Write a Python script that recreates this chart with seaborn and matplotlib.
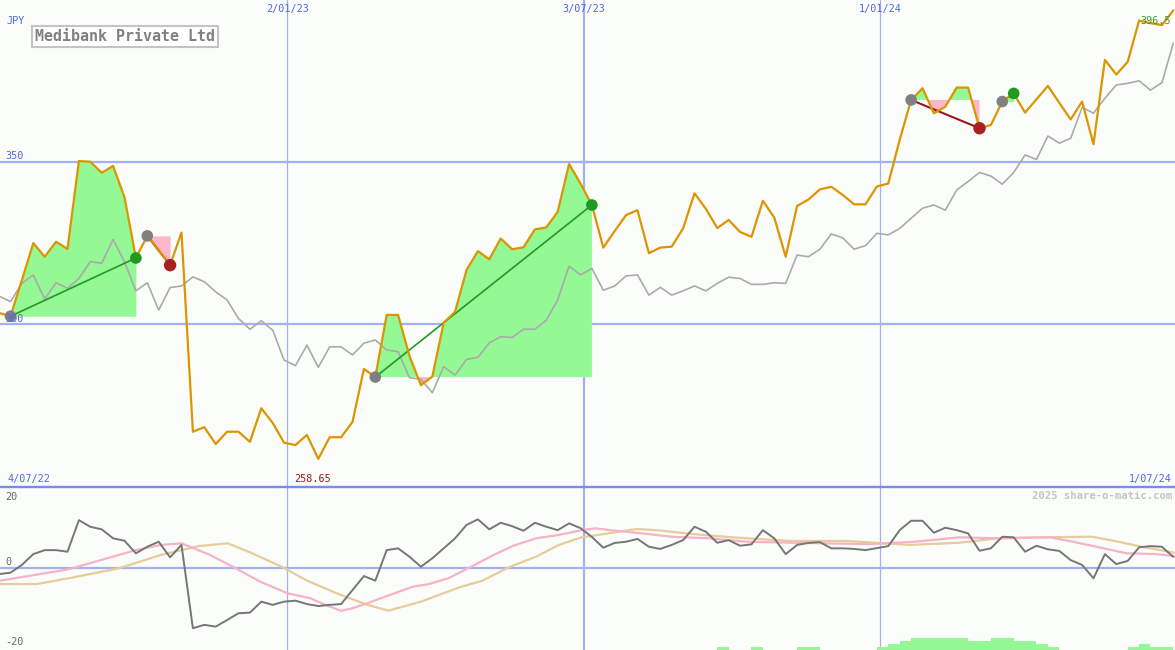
import numpy as np
import pandas as pd
import matplotlib
matplotlib.use("Agg")
import matplotlib.pyplot as plt
import matplotlib.dates as mdates
import matplotlib.transforms as mtransforms
from matplotlib.lines import Line2D
import seaborn as sns

# ---------------- data (weekly) ----------------
start_date = "2022-07-09"
price = [303.5, 302.5, 313.6, 325.0, 320.8, 325.4, 323.2, 350.2, 350.0, 346.6,
         348.7, 339.1, 320.4, 327.2, 322.8, 318.2, 328.2, 267.0, 268.4, 263.2,
         267.0, 267.0, 263.9, 274.2, 269.7, 263.6, 262.9, 266.0, 258.65, 265.3,
         265.3, 270.0, 286.3, 283.8, 302.9, 302.9, 290.3, 281.3, 283.9, 300.5,
         303.9, 316.7, 322.5, 320.0, 326.4, 323.1, 323.7, 329.2, 329.8, 334.6,
         349.3, 343.3, 336.7, 323.6, 328.7, 333.6, 335.1, 321.9, 323.6, 323.9,
         329.5, 340.3, 335.5, 329.6, 332.1, 328.4, 326.9, 338.0, 332.8, 320.8,
         336.4, 338.4, 341.5, 342.3, 339.8, 336.9, 336.9, 342.4, 343.3, 356.7,
         369.0, 372.6, 364.9, 366.9, 372.8, 372.8, 360.3, 361.3, 368.5, 371.0,
         365.1, 369.2, 373.3, 368.1, 363.0, 368.5, 355.4, 381.3, 376.8, 380.7,
         393.4, 392.6, 392.0, 396.5]
index_rel = [308.7, 307.0, 312.6, 315.2, 307.8, 312.8, 311.1, 314.1, 319.3, 318.8,
             326.1, 319.2, 310.3, 312.8, 304.4, 311.3, 311.8, 314.6, 313.1, 310.0,
             307.5, 301.8, 298.5, 301.1, 298.2, 289.0, 287.3, 293.6, 286.8, 293.1,
             293.1, 290.6, 294.2, 295.2, 292.1, 291.6, 283.6, 283.1, 279.0, 287.0,
             284.4, 289.2, 289.9, 294.3, 296.2, 296.0, 298.5, 298.5, 301.3, 307.5,
             317.9, 315.2, 317.2, 310.5, 311.8, 314.9, 315.2, 309.0, 311.4, 309.0,
             310.3, 311.8, 310.3, 312.6, 314.5, 314.1, 312.3, 312.3, 312.8, 312.6,
             321.3, 320.8, 323.1, 327.8, 326.6, 323.1, 324.2, 328.0, 327.5, 329.5,
             332.6, 335.7, 336.7, 335.1, 341.3, 343.9, 346.7, 345.6, 343.1, 346.7,
             352.1, 350.7, 357.9, 355.7, 357.2, 366.7, 364.9, 369.5, 373.6, 374.1,
             374.9, 372.0, 374.3, 386.4]
oscillator = [-1.6, -1.25, 0.7, 3.4, 4.4, 4.4, 4.0, 11.9, 10.25, 9.6,
              7.35, 6.75, 3.6, 5.25, 6.5, 2.6, 5.7, -15.15, -14.3, -14.75,
              -13.1, -11.4, -11.25, -8.5, -9.3, -8.5, -8.25, -9.1, -9.6, -9.3,
              -9.1, -5.6, -2.1, -3.25, 4.4, 4.85, 2.75, 0.25, 2.35, 4.85,
              7.35, 10.7, 12.1, 9.6, 11.25, 10.4, 9.25, 11.25, 10.25, 9.4,
              11.1, 9.9, 7.7, 5.0, 6.2, 6.5, 7.2, 5.25, 4.7, 5.7,
              6.9, 10.25, 9.0, 6.25, 6.9, 5.5, 5.85, 9.4, 7.35, 3.4,
              5.7, 6.2, 6.4, 4.85, 4.85, 4.7, 4.4, 4.9, 5.4, 9.4,
              11.75, 11.75, 8.75, 10.0, 9.4, 8.6, 4.25, 4.85, 7.75, 7.6,
              4.0, 5.5, 4.6, 4.2, 1.9, 0.7, -2.65, 3.4, 0.9, 1.7,
              5.1, 5.4, 5.25, 2.7]
# smooth averages read at knots (week number, value)
pink_w = [0.08, 6.1, 11.8, 14.2, 16.0, 18.5, 20.6, 22.9, 25.3, 27.3, 28.6, 30.0, 31.0,
          32.3, 34.3, 36.3, 37.7, 39.4, 41.4, 43.4, 45.1, 47.1, 49.1, 51.1, 52.3, 53.6,
          55.9, 59.0, 62.3, 65.6, 69.6, 76.3, 80.3, 84.25, 87.6, 92.2, 94.2, 96.9,
          98.9, 101.5, 103.1]
pink_v = [-3.25, -0.4, 4.25, 5.7, 6.1, 3.2, 0.1, -3.5, -6.4, -7.65, -9.3, -10.8, -10.15,
          -8.9, -6.8, -4.75, -4.1, -2.65, 0.25, 3.2, 5.5, 7.35, 8.2, 9.4, 9.85, 9.4,
          8.75, 7.75, 7.35, 6.5, 6.25, 5.9, 6.5, 7.6, 7.35, 7.6, 6.5, 4.85,
          3.6, 3.4, 2.9]
tan_w = [0.08, 3.3, 6.1, 10.5, 14.2, 17.5, 20.05, 22.2, 24.9, 26.9, 29.6, 32.3, 34.15,
         37.0, 40.4, 42.4, 44.7, 47.1, 49.1, 51.1, 53.0, 55.95, 57.6, 60.95, 64.3,
         69.3, 74.3, 79.9, 84.25, 87.6, 90.9, 95.9, 98.2, 100.2, 103.1]
tan_v = [-4.1, -4.1, -2.65, -0.15, 3.2, 5.4, 6.1, 3.6, 0.1, -3.1, -6.4, -9.3, -10.75,
         -8.5, -4.9, -3.25, 0.1, 2.75, 5.7, 7.6, 8.4, 9.7, 9.4, 8.4, 7.6,
         6.7, 6.7, 5.7, 6.25, 7.35, 7.6, 7.75, 6.5, 5.25, 3.75]
bar_w = [63, 66, 70, 71, 77, 78, 79, 80, 81, 82, 83, 84, 85, 86, 87, 88, 89, 90, 91, 92,
         99, 100, 101, 102]
bar_h = [0.8, 0.8, 0.8, 0.8, 0.8, 1.6, 2.3, 3.1, 3.1, 3.1, 3.1, 3.1, 2.3, 2.3, 3.1, 3.1,
         2.3, 2.3, 1.6, 0.8, 0.8, 1.6, 0.8, 0.8]
buy_start = [1, 33, 88]
buy_end = [12, 52, 89]
sell_start = [13, 80]
sell_end = [15, 86]
grid_dates = ["2023-01-02", "2023-07-03", "2024-01-01"]
grid_labels = ["2/01/23", "3/07/23", "1/01/24"]
title = "Medibank Private Ltd"
currency = "JPY"
first_label = "4/07/22"
last_label = "1/07/24"
watermark = "2025 share-o-matic.com"

# ---------------- setup ----------------
sns.set_style("white")
plt.rcParams["font.family"] = ["DejaVu Sans Mono"]
W, H = 1175, 650
BG = "#fbfdfb"
fig = plt.figure(figsize=(W / 100, H / 100), dpi=100, facecolor=BG)
ax = fig.add_axes([0, 163 / H, 1, 487 / H])
ax2 = fig.add_axes([0, 0, 1, 163 / H], sharex=ax)
for a in (ax, ax2):
    a.set_facecolor(BG)
    a.axis("off")

t0 = mdates.date2num(pd.Timestamp(start_date))
xn = t0 + 7.0 * np.arange(len(price))
price_a = np.array(price)
ax.set_xlim(t0 + 0.079 * 7, t0 + 103.15 * 7)
ax.set_ylim(250.0, 399.72)
ax2.set_ylim(-20.6, 20.2)

GRID = "#a3b1f2"
# grid lines
for v in (350, 300):
    ax.axhline(v, color=GRID, lw=1.6, zorder=1)
for d in grid_dates:
    xd = mdates.date2num(pd.Timestamp(d))
    lw = 1.6 if "-07-" in d else 0.9
    ax.axvline(xd, color=GRID, lw=lw, zorder=1)
    ax2.axvline(xd, color=GRID, lw=lw, zorder=1)
ax2.axhline(0, color=GRID, lw=1.6, zorder=1)
fig.add_artist(Line2D([0, 1], [1 - 487 / H, 1 - 487 / H], transform=fig.transFigure,
                      color="#7b8be8", lw=1.7, zorder=5))

# signal fills
GREEN_FILL = "#94f894"
PINK_FILL = "#fcb8c8"
for s, e in list(zip(buy_start, buy_end)) + list(zip(sell_start, sell_end)):
    xs = xn[s:e + 1]
    ys = price_a[s:e + 1]
    base = price_a[s]
    ax.fill_between(xs, ys, base, where=ys >= base, interpolate=True,
                    color=GREEN_FILL, lw=0, zorder=2)
    ax.fill_between(xs, ys, base, where=ys <= base, interpolate=True,
                    color=PINK_FILL, lw=0, zorder=2)

# lines
sns.lineplot(x=xn, y=index_rel, ax=ax, color="#aaaaaa", linewidth=1.2, zorder=3,
             estimator=None, sort=False)
for s, e in zip(buy_start, buy_end):
    sns.lineplot(x=[xn[s], xn[e]], y=[price[s], price[e]], ax=ax, color="#229922",
                 linewidth=1.2, zorder=4, estimator=None, sort=False)
for s, e in zip(sell_start, sell_end):
    sns.lineplot(x=[xn[s], xn[e]], y=[price[s], price[e]], ax=ax, color="#991818",
                 linewidth=1.5, zorder=4, estimator=None, sort=False)
sns.lineplot(x=xn, y=price, ax=ax, color="#dc9500", linewidth=1.6, zorder=5,
             estimator=None, sort=False)

starts = buy_start + sell_start
sns.scatterplot(x=xn[starts], y=price_a[starts], ax=ax, color="#808080", s=70,
                edgecolor="none", zorder=6, legend=False)
sns.scatterplot(x=xn[buy_end], y=price_a[buy_end], ax=ax, color="#229922", s=70,
                edgecolor="none", zorder=6, legend=False)
sns.scatterplot(x=xn[sell_end], y=price_a[sell_end], ax=ax, color="#a82020", s=80,
                edgecolor="none", zorder=6, legend=False)

# bottom panel
bx = t0 + 7.0 * np.array(bar_w)
ax2.bar(bx, bar_h, width=7.0, bottom=-20.6, align="edge", color="#94f894", lw=0, zorder=2)
sns.lineplot(x=t0 + 7.0 * np.array(tan_w), y=tan_v, ax=ax2, color="#e6cc9a",
             linewidth=1.6, zorder=3, estimator=None, sort=False)
sns.lineplot(x=t0 + 7.0 * np.array(pink_w), y=pink_v, ax=ax2, color="#f8b2c6",
             linewidth=1.6, zorder=3, estimator=None, sort=False)
sns.lineplot(x=xn, y=oscillator, ax=ax2, color="#767676", linewidth=1.4, zorder=4,
             estimator=None, sort=False)

# ---------------- text ----------------
BLUE = "#5363ea"
FS = 7.3


def fy(ypix):
    return 1 - ypix / H


bl = mtransforms.blended_transform_factory(ax.transData, fig.transFigure)
for d, lab in zip(grid_dates, grid_labels):
    ax.text(mdates.date2num(pd.Timestamp(d)), fy(9), lab, transform=bl, ha="center",
            va="center", color=BLUE, fontsize=FS)
fig.text(6 / W, fy(21), currency, color=BLUE, fontsize=FS, va="center", ha="left")
fig.text(5 / W, fy(156), "350", color=BLUE, fontsize=FS, va="center", ha="left")
fig.text(5 / W, fy(319.5), "300", color=BLUE, fontsize=FS, va="center", ha="left",
         zorder=0)
fig.text(7 / W, fy(479), first_label, color=BLUE, fontsize=FS, va="center", ha="left")
fig.text(1172 / W, fy(479), last_label, color=BLUE, fontsize=FS, va="center", ha="right")
imin = int(np.argmin(price_a))
ax.text(xn[imin] - 0.5 * 7, fy(479), f"{price[imin]:.2f}", transform=bl, ha="center",
        va="center", color="#9a1a1a", fontsize=FS)
imax = int(np.argmax(price_a))
fig.text(1171 / W, fy(20.5), f"{price[imax]:.1f}", color="#3f9a2a", fontsize=FS,
         va="center", ha="right", zorder=10)
fig.text(125 / W, fy(36.3), title, color="#808080", fontsize=10.8, fontweight="bold",
         ha="center", va="center",
         bbox=dict(boxstyle="square,pad=0.22", fc="white", ec="#c4c4c4", lw=1.5))
fig.text(1172 / W, fy(496), watermark, color="#c4c4c4", fontsize=7.7, fontweight="bold",
         ha="right", va="center")
GREY_T = "#666666"
fig.text(5 / W, fy(497), "20", color=GREY_T, fontsize=FS, va="center", ha="left")
fig.text(5 / W, fy(562), "0", color=GREY_T, fontsize=FS, va="center", ha="left")
fig.text(5 / W, fy(642), "-20", color=GREY_T, fontsize=FS, va="center", ha="left")

fig.savefig("out.png", dpi=100, facecolor=BG)
